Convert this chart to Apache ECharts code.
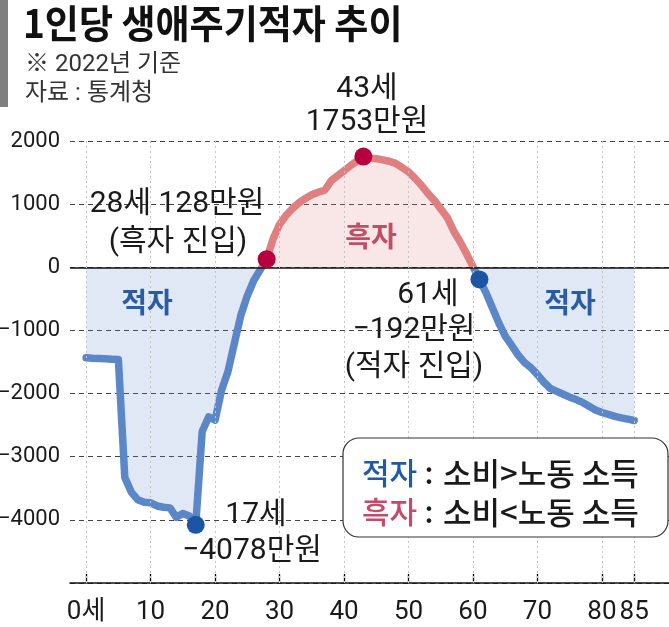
<!DOCTYPE html>
<html><head><meta charset="utf-8">
<script src="https://cdn.jsdelivr.net/npm/echarts@6/dist/echarts.min.js"></script>
<style>html,body{margin:0;padding:0;background:#fff}#c{width:669px;height:627px}</style>
</head><body><div id="c"></div>
<script>
// ---- data ----
const ages = [0,1,2,3,4,5,6,7,8,9,10,11,12,13,14,15,16,17,18,19,20,21,22,23,24,25,26,27,28,29,30,31,32,33,34,35,36,37,38,39,40,41,42,43,44,45,46,47,48,49,50,51,52,53,54,55,56,57,58,59,60,61,62,63,64,65,66,67,68,69,70,71,72,73,74,75,76,77,78,79,80,81,82,83,84,85];
const deficit = [-1432,-1440,-1445,-1450,-1455,-1460,-3330,-3560,-3680,-3720,-3730,-3780,-3800,-3810,-3960,-3900,-3940,-4078,-2600,-2370,-2420,-1950,-1650,-1200,-760,-450,-210,-40,128,450,680,820,930,1020,1090,1150,1190,1220,1370,1450,1530,1610,1680,1753,1730,1720,1700,1680,1645,1580,1510,1410,1300,1170,1060,925,790,575,405,215,10,-192,-400,-640,-880,-1090,-1237,-1390,-1510,-1590,-1700,-1820,-1920,-1965,-2010,-2057,-2095,-2140,-2200,-2260,-2300,-2330,-2360,-2385,-2405,-2427];
const keyAges = [17,28,43,61];
const keyValues = [-4078,128,1753,-192];
const xTicks = [0,10,20,30,40,50,60,70,80,85];
const yTicks = [2000,1000,0,-1000,-2000,-3000,-4000];

const BLUE = '#5b87c8', RED = '#e07f80';
const NUMF = "Roboto,'Noto Sans CJK KR',sans-serif";
const KR = "'Noto Sans CJK KR',sans-serif";

const chart = echarts.init(document.getElementById('c'), null, {renderer:'canvas'});

function txt(x, y, text, size, opts) {
  opts = opts || {};
  return {type:'text', x:x, y:y, scaleX: opts.scaleX || 1, z: 100,
    style:{text:text, font:(opts.weight||'normal')+' '+size+'px '+(opts.family||NUMF),
      fill: opts.color || '#1a1a1a', align: opts.align || 'center', verticalAlign:'middle'}};
}

const option = {
  animation:false,
  backgroundColor:'#fff',
  grid:{left:70, right:0, top:141, bottom:44, outerBoundsMode:'none', containLabel:false},
  xAxis:{type:'value', min:-2.5, max:90.4,
    axisLine:{onZero:false, lineStyle:{color:'#111', width:1.5}},
    axisTick:{show:true, inside:true, length:9, customValues:xTicks, lineStyle:{color:'#000', width:1.3}},
    axisLabel:{customValues:xTicks, margin:16, fontSize:26, fontFamily:NUMF, color:'#1a1a1a', hideOverlap:false,
      formatter:v => v===0 ? '0세' : String(v)},
    splitLine:{show:false}},
  yAxis:{type:'value', min:-5000, max:2000, interval:1000,
    axisLine:{show:false}, axisTick:{show:false},
    axisLabel:{margin:10, fontSize:22, fontFamily:NUMF, color:'#1a1a1a',
      formatter:v => yTicks.indexOf(v) < 0 ? '' : (v < 0 ? '\u2212' + Math.abs(v) : String(v))},
    splitLine:{lineStyle:{color:'#444', type:[5,4], width:1}}},
  visualMap:{type:'piecewise', show:false, dimension:1, seriesIndex:0,
    pieces:[{gte:-9000, lt:0, color:BLUE},{gte:0, lte:9000, color:RED}]},
  series:[
    {type:'line', data: ages.map((a,i)=>[a, deficit[i]]), showSymbol:false, symbol:'none',
      lineStyle:{width:7.5, join:'round', cap:'round'}, areaStyle:{opacity:0.19}, z:3,
      markLine:{silent:true, symbol:'none', label:{show:false}, animation:false,
        data:[{yAxis:0, lineStyle:{color:'#111', type:'solid', width:1.5}}]}},
    {type:'line', data:[], z:1,
      markLine:{silent:true, symbol:'none', label:{show:false}, animation:false,
        lineStyle:{color:'#c4c4c4', type:[2,3], width:1},
        data: xTicks.map(v=>({xAxis:v}))}},
    {type:'scatter', data: keyAges.map((a,i)=>[a, keyValues[i]]), symbolSize:18, z:5,
      itemStyle:{opacity:1, color: p => p.value[1] < 0 ? '#1b55a4' : '#b60040'}}
  ],
  graphic:[
    {type:'rect', shape:{x:0, y:0, width:8, height:107}, style:{fill:'#7f7f7f'}},
    txt(23, 23, '1인당 생애주기적자 추이', 39, {weight:'bold', family:KR, align:'left', scaleX:0.95, color:'#111'}),
    txt(25, 65, '※ 2022년 기준', 24, {align:'left', color:'#333'}),
    txt(25, 94, '자료 : 통계청', 24, {align:'left', color:'#333'}),
    txt(367, 89, '43세', 30),
    txt(367, 122, '1753만원', 30),
    txt(177, 204, '28세 128만원', 30),
    txt(178, 242, '(흑자 진입)', 30),
    txt(428, 295, '61세', 30),
    txt(414, 330, '\u2212192만원', 30),
    txt(414, 367, '(적자 진입)', 30),
    txt(256, 515, '17세', 30),
    txt(252, 551, '\u22124078만원', 30),
    txt(147, 302, '적자', 28, {weight:'bold', family:KR, color:'#2b5ba3'}),
    txt(570, 302, '적자', 28, {weight:'bold', family:KR, color:'#2b5ba3'}),
    txt(371, 236, '흑자', 28, {weight:'bold', family:KR, color:'#c24d69'}),
    {type:'rect', z:90, shape:{x:343, y:438, width:325, height:99, r:16},
      style:{fill:'#fff', stroke:'#333', lineWidth:1.2}},
    txt(362, 473, '적자', 30, {family:KR, weight:500, align:'left', color:'#1f5aa6'}),
    txt(429, 473, ':', 30, {family:KR, weight:500}),
    txt(443, 473, '소비>노동 소득', 31, {family:KR, weight:500, align:'left'}),
    txt(362, 512, '흑자', 30, {family:KR, weight:500, align:'left', color:'#c44a68'}),
    txt(429, 512, ':', 30, {family:KR, weight:500}),
    txt(443, 512, '소비<노동 소득', 31, {family:KR, weight:500, align:'left'})
  ]
};
chart.setOption(option);
</script></body></html>
